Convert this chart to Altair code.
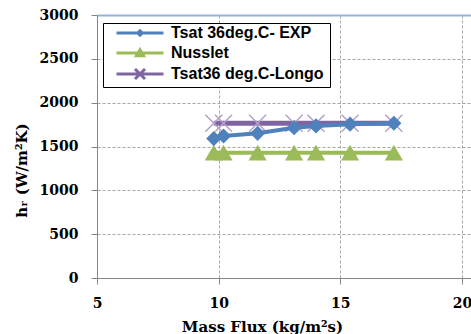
import altair as alt
import pandas as pd

# ---- data ----
mass_flux = [9.8, 10.2, 11.6, 13.1, 14.0, 15.4, 17.2]
h_exp = [1590, 1620, 1650, 1715, 1735, 1755, 1765]
h_nusselt = [1430, 1430, 1430, 1430, 1430, 1430, 1430]
h_longo = [1765, 1765, 1765, 1765, 1765, 1765, 1765]

series_names = ["Tsat 36deg.C- EXP", "Nusslet", "Tsat36 deg.C-Longo"]
series_colors = ["#4f81bd", "#9bbb59", "#8064a2"]
x_ticks = [5, 10, 15, 20]
y_ticks = [0, 500, 1000, 1500, 2000, 2500, 3000]

df_exp = pd.DataFrame({"flux": mass_flux, "h": h_exp})
df_nus = pd.DataFrame({"flux": mass_flux, "h": h_nusselt})
df_longo = pd.DataFrame({"flux": mass_flux, "h": h_longo})
df_legend = pd.DataFrame({"Series": series_names})

SERIF = "DejaVu Serif"
AXIS_GRAY = "#868686"
GRID_GRAY = "#a6a6a6"

x_enc = alt.X(
    "flux:Q",
    scale=alt.Scale(domain=[5, 20.37], nice=False, zero=False),
    axis=alt.Axis(
        values=x_ticks, title="Mass Flux (kg/m²s)", format="d",
        labelFlush=False, labelFont=SERIF, labelFontSize=14, labelFontWeight="bold",
        labelColor="black", labelPadding=12, tickSize=6, tickColor=AXIS_GRAY,
        domainColor=AXIS_GRAY, grid=True, gridColor=GRID_GRAY, gridDash=[3, 2],
        titleFont=SERIF, titleFontSize=15, titleFontWeight="bold", titleColor="black",
        titleX=165, titleY=53, titleBaseline="alphabetic", titleAlign="center",
    ),
)
y_enc = alt.Y(
    "h:Q",
    scale=alt.Scale(domain=[0, 3000], nice=False),
    axis=alt.Axis(
        values=y_ticks, title="hᵣ (W/m²K)", format="d",
        labelFlush=False, labelFont=SERIF, labelFontSize=14, labelFontWeight="bold",
        labelColor="black", labelPadding=13, tickSize=6, tickColor=AXIS_GRAY,
        domainColor=AXIS_GRAY, grid=True,
        gridColor=alt.condition("datum.value == 3000", alt.value("#95b3d7"), alt.value(GRID_GRAY)),
        gridDash=alt.condition("datum.value == 3000", alt.value([]), alt.value([3, 2])),
        gridWidth=alt.condition("datum.value == 3000", alt.value(2), alt.value(1)),
        titleFont=SERIF, titleFontSize=15, titleFontWeight="bold", titleColor="black",
        titleAngle=270, titleX=-71, titleY=155, titleBaseline="alphabetic", titleAlign="center",
    ),
)

nus_line = alt.Chart(df_nus).mark_line(color=series_colors[1], strokeWidth=4).encode(x=x_enc, y=y_enc)
nus_pts = alt.Chart(df_nus).mark_point(
    shape="triangle-up", filled=True, size=330, color=series_colors[1], opacity=1
).encode(x=x_enc, y=y_enc)

longo_line = alt.Chart(df_longo).mark_line(color=series_colors[2], strokeWidth=5).encode(x=x_enc, y=y_enc)
longo_pts = alt.Chart(df_longo).mark_point(
    shape="M-1,-1L1,1M-1,1L1,-1", filled=False, size=289, stroke="#b3a2c7",
    strokeWidth=1.5, opacity=1
).encode(x=x_enc, y=y_enc)

exp_line = alt.Chart(df_exp).mark_line(color=series_colors[0], strokeWidth=4).encode(x=x_enc, y=y_enc)
exp_pts = alt.Chart(df_exp).mark_point(
    shape="diamond", filled=True, size=230, color=series_colors[0], opacity=1
).encode(x=x_enc, y=y_enc)

legend_paths = [
    "M0.7,0H10.1M5.4,-0.45L5.85,0L5.4,0.45L4.95,0Z",
    "M0.7,0H10.1M5.4,-0.65L6.1,0.55L4.7,0.55Z",
    "M0.7,0H10.1M4.4,-1L6.4,1M4.4,1L6.4,-1",
]
LEG_X, LEG_Y, LEG_ROWPAD = 6, 8, 1
leg = alt.Legend(
    orient="none", legendX=LEG_X, legendY=LEG_Y, padding=2,
    fillColor="white", strokeColor="black",
    title=" ", titleOrient="right", titlePadding=4,
    symbolSize=100, symbolStrokeWidth=3,
    labelFont="Liberation Sans", labelFontSize=16, labelFontWeight="bold",
    labelColor="black", labelOffset=50, labelLimit=400, rowPadding=LEG_ROWPAD,
)
legend_layer = alt.Chart(df_legend).mark_point(filled=True, opacity=1).encode(
    fill=alt.Fill("Series:N", scale=alt.Scale(domain=series_names, range=series_colors), legend=leg),
    stroke=alt.Stroke("Series:N", scale=alt.Scale(domain=series_names, range=series_colors), legend=leg),
    shape=alt.Shape("Series:N", scale=alt.Scale(domain=series_names, range=legend_paths), legend=leg),
).transform_filter("datum.Series == 'none'")

chart = alt.layer(
    nus_line, nus_pts, longo_line, longo_pts, exp_line, exp_pts, legend_layer
).properties(
    width=374, height=263,
    autosize=alt.AutoSizeParams(type="none"),
    padding={"left": 97, "top": 15, "right": 0, "bottom": 56},
    background="white",
).configure_view(stroke=None).configure_legend(
    orient="none", legendX=LEG_X, legendY=LEG_Y, rowPadding=LEG_ROWPAD
)

chart.save("out.html", embed_options={"renderer": "svg", "actions": False})
